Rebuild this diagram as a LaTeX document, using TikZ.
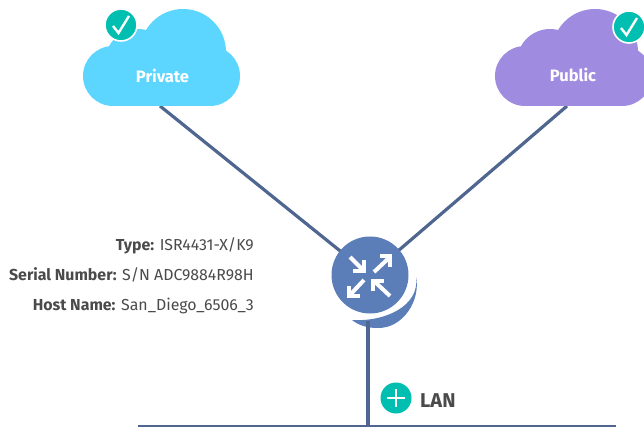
\documentclass[tikz,border=0pt]{standalone}
\usepackage{fontspec}
\setmainfont{Fira Sans}
\definecolor{linkc}{HTML}{4F6690}
\definecolor{privc}{HTML}{5CD6FF}
\definecolor{pubc}{HTML}{9F8BE0}
\definecolor{tealc}{HTML}{00BFB0}
\definecolor{routc}{HTML}{5B7DB8}
\definecolor{txtc}{HTML}{4A4A4A}
\tikzset{
  link/.style={draw=linkc,line width=3.2pt},
  cloudlabel/.style={text=white,font=\fontsize{16.5}{18}\selectfont\bfseries,inner sep=0pt},
  info/.style={text=txtc,font=\fontsize{15.9}{18}\selectfont,inner sep=0pt,anchor=base east},
  badge/.style={circle,fill=tealc,draw=white,line width=1.6pt,minimum size=32pt,inner sep=0pt},
  whiteline/.style={draw=white,line width=2.4pt},
  whitearrow/.style={draw=white,line width=4pt},
  pics/cloudshape/.style={code={
    \fill[#1] (30,76) circle (30pt) (55,62) circle (33pt) (100,52) circle (43pt) (127,76) circle (30pt);
    \fill[#1] (30,60) rectangle (127,106);
  }}
}
\begin{document}
\begin{tikzpicture}[x=1pt,y=-1pt]
\useasboundingbox (0,0) rectangle (644,427);
% links
\coordinate (privfoot) at (160,106);
\coordinate (pubfoot) at (567,106);
\coordinate (routcenter) at (370,275);
\coordinate (lanbus) at (368,427);
\coordinate (busleft) at (138,426.2);
\coordinate (busright) at (616,426.2);
\draw[link] (privfoot) -- (routcenter);
\draw[link] (pubfoot) -- (routcenter);
% clouds
\pic at (83,0) {cloudshape=privc};
\pic at (495,0) {cloudshape=pubc};
\node[cloudlabel] (privlabel) at (162.5,76) {Private};
\node[cloudlabel] (publabel) at (573,75) {Public};
% badges
\node[badge] (privbadge) at (121,25) {};
\draw[whiteline] (113,26) -- (118.5,33) -- (129,16);
\node[badge] (pubbadge) at (629,27) {};
\draw[whiteline] (621,28) -- (626.5,35) -- (637,18);
% router
\fill[routc] (416,277) .. controls (421,300) and (403,329) .. (377,328)
  .. controls (367,328) and (358,325) .. (352,320)
  .. controls (385,322) and (420,306) .. cycle;
\node[circle,fill=routc,minimum size=77pt,inner sep=0pt] (router) at (routcenter) {};
\draw[link] (368,321) -- (lanbus);
\draw[draw=linkc,line width=1.6pt] (busleft) -- (busright);
% router arrows
\begin{scope}[whitearrow]
\draw (350,257) -- (364,271); \draw (364,260) -- (364,271) -- (353,271);
\draw (390,257) -- (374,272); \draw (380,256) -- (390,256) -- (390,267);
\draw (349,296) -- (364,280); \draw (349,286) -- (349,296) -- (360,296);
\draw (390,296) -- (374,281); \draw (373,291) -- (373,281) -- (384,281);
\end{scope}
% LAN
\node[circle,fill=tealc,minimum size=31pt,inner sep=0pt] (plus) at (396,398) {};
\draw[whiteline,line width=2pt] (396,389) -- (396,407) (387,398) -- (405,398);
\node[text=txtc,font=\fontsize{20}{22}\selectfont\bfseries,inner sep=0pt,anchor=west] (lan) at (420,401) {LAN};
% info
\node[info] (typeinfo) at (254,251) {\textbf{Type:} ISR4431-X/K9};
\node[info] (serialinfo) at (254,280.5) {\textbf{Serial Number:} S/N ADC9884R98H};
\node[info] (hostinfo) at (254,310) {\textbf{Host Name:} San\_Diego\_6506\_3};
\end{tikzpicture}
\end{document}
